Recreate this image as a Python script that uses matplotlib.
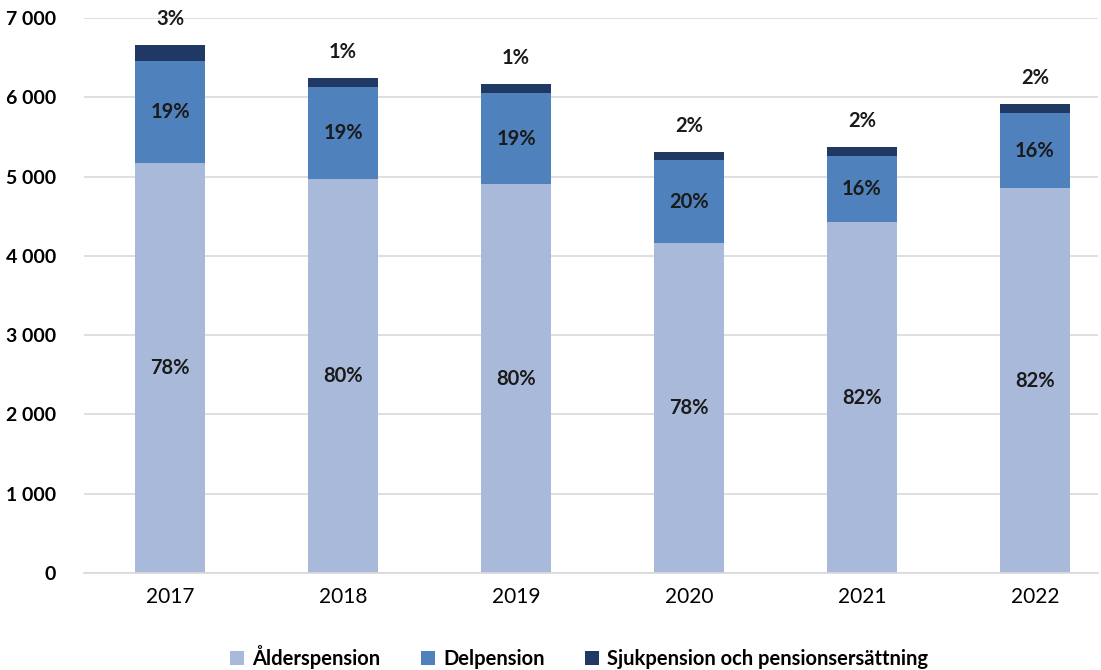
import matplotlib
matplotlib.use("Agg")
import matplotlib.pyplot as plt
from matplotlib.ticker import FuncFormatter
from matplotlib.patches import Patch

years = ["2017", "2018", "2019", "2020", "2021", "2022"]
alder = [5170, 4970, 4905, 4160, 4425, 4855]
delp = [1290, 1160, 1150, 1045, 835, 945]
sjuk = [200, 110, 110, 100, 115, 115]
alder_lbl = ["78%", "80%", "80%", "78%", "82%", "82%"]
del_lbl = ["19%", "19%", "19%", "20%", "16%", "16%"]
sjuk_lbl = ["3%", "1%", "1%", "2%", "2%", "2%"]
series_names = ["Ålderspension", "Delpension", "Sjukpension och pensionsersättning"]
colors = ["#A9B9D9", "#4F81BD", "#1F3864"]

plt.rcParams['font.family'] = ['Lato', 'DejaVu Sans']

fig = plt.figure(figsize=(11.01, 6.70), dpi=100)
ax = fig.add_axes([84/1101, 1-573/670, 1014/1101, (573-18)/670])

x = list(range(len(years)))
w = 0.4
ax.bar(x, alder, w, color=colors[0], zorder=2)
ax.bar(x, delp, w, bottom=alder, color=colors[1], zorder=2)
bot3 = [a + d for a, d in zip(alder, delp)]
ax.bar(x, sjuk, w, bottom=bot3, color=colors[2], zorder=2)

lblsize = 14.5
for i in x:
    ax.text(i, alder[i] / 2, alder_lbl[i], ha='center', va='center',
            fontsize=lblsize, fontweight='bold', color='#1a1a1a', zorder=3)
    ax.text(i, alder[i] + delp[i] / 2, del_lbl[i], ha='center', va='center',
            fontsize=lblsize, fontweight='bold', color='#1a1a1a', zorder=3)
    ax.text(i, bot3[i] + sjuk[i] + 330, sjuk_lbl[i], ha='center', va='center',
            fontsize=lblsize, fontweight='bold', color='#1a1a1a', zorder=3, clip_on=False)

ax.set_xlim(-0.497, 5.364)
ax.set_ylim(0, 7000)
ax.set_yticks(range(0, 7001, 1000))
ax.yaxis.set_major_formatter(FuncFormatter(lambda v, p: f"{int(v):,}".replace(",", " ")))
ax.set_xticks(x)
ax.set_xticklabels(years, fontsize=15)
for lbl in ax.get_yticklabels():
    lbl.set_fontweight('bold')
    lbl.set_fontsize(14)
ax.tick_params(axis='both', length=0)
ax.tick_params(axis='y', pad=20)
ax.tick_params(axis='x', pad=10)
ax.grid(axis='y', color='#D9D9D9', linewidth=1.2, zorder=0)
for s in ['top', 'right', 'left']:
    ax.spines[s].set_visible(False)
ax.spines['bottom'].set_color('#D9D9D9')
ax.spines['bottom'].set_linewidth(1.2)

handles = [Patch(facecolor=c) for c in colors]
fig.legend(handles, series_names, loc='center', bbox_to_anchor=(0.526, 1-657/670),
           ncol=3, frameon=False, prop={'weight': 'bold', 'size': 14.5},
           handlelength=0.7, handleheight=0.7, handletextpad=0.4, columnspacing=2.0)

fig.savefig("out.png", dpi=100)
